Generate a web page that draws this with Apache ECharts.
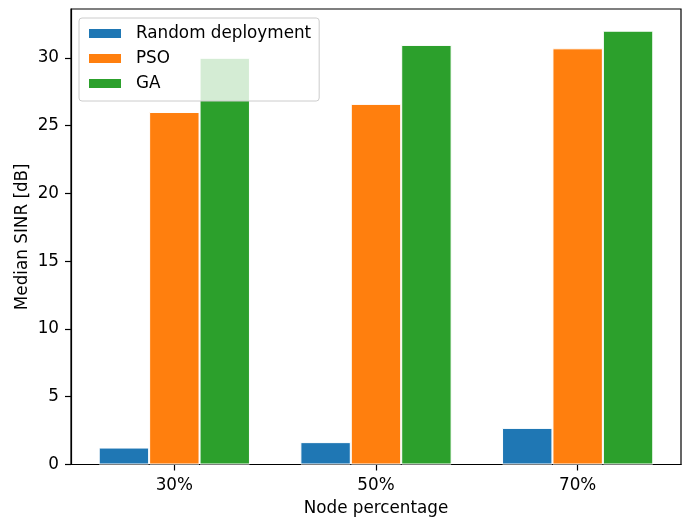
<!DOCTYPE html>
<html>
<head>
<meta charset="utf-8">
<script src="https://cdn.jsdelivr.net/npm/echarts@6/dist/echarts.min.js"></script>
<style>
  html, body { margin: 0; padding: 0; background: #fff; }
  #chart { width: 690px; height: 518px; }
</style>
</head>
<body>
<div id="chart"></div>
<script>
// Median SINR per deployment strategy, grouped by node percentage
const categories = ['30%', '50%', '70%'];
const seriesNames = ['Random deployment', 'PSO', 'GA'];
const randomValues = [1.25, 1.65, 2.7];
const psoValues = [26.0, 26.6, 30.7];
const gaValues = [30.0, 30.95, 32.0];
const yTicks = [0, 5, 10, 15, 20, 25, 30];

const colors = ['#1f77b4', '#ff7f0e', '#2ca02c'];
const FONT = 'DejaVu Sans';
const FS = 16.8;

const chart = echarts.init(document.getElementById('chart'), null, { renderer: 'canvas' });

function barSeries(name, values, color) {
  return {
    name: name,
    type: 'bar',
    barWidth: '25%',
    barGap: '0%',
    data: values.map((v, i) => [i, v]),
    itemStyle: { color: color, borderColor: '#ffffff', borderWidth: 1 },
    emphasis: { disabled: true }
  };
}

chart.setOption({
  animation: false,
  textStyle: { fontFamily: FONT },
  grid: {
    left: 71, right: 9, top: 9, bottom: 53.5,
    outerBoundsMode: 'none',
    containLabel: false,
    show: true, borderColor: '#000', borderWidth: 1.2, backgroundColor: 'transparent'
  },
  legend: {
    orient: 'vertical',
    left: 79, top: 18,
    padding: [7, 8, 9, 8],
    itemWidth: 34, itemHeight: 11, itemGap: 8,
    icon: 'rect',
    backgroundColor: 'rgba(255,255,255,0.8)',
    borderColor: '#cccccc', borderWidth: 1, borderRadius: 3,
    textStyle: { fontFamily: FONT, fontSize: FS, color: '#000', padding: [0, 0, 0, 9] },
    data: seriesNames
  },
  xAxis: {
    type: 'value',
    min: -0.5125, max: 2.5125,
    splitLine: { show: false },
    axisLine: { show: true, onZero: false, lineStyle: { color: '#000', width: 1.2 } },
    axisTick: { show: true, length: 6, customValues: [0, 1, 2], lineStyle: { color: '#000', width: 1.2 } },
    axisLabel: {
      customValues: [0, 1, 2],
      formatter: v => categories[Math.round(v)],
      margin: 13, fontFamily: FONT, fontSize: FS, color: '#000'
    },
    name: 'Node percentage',
    nameLocation: 'middle', nameGap: 36,
    nameTextStyle: { fontFamily: FONT, fontSize: FS, color: '#000' }
  },
  yAxis: {
    type: 'value',
    min: 0, max: 33.6,
    splitLine: { show: false },
    axisLine: { show: true, onZero: false, lineStyle: { color: '#000', width: 1.2 } },
    axisTick: { show: true, length: 6, customValues: yTicks, lineStyle: { color: '#000', width: 1.2 } },
    axisLabel: {
      customValues: yTicks,
      margin: 12, fontFamily: FONT, fontSize: FS, color: '#000'
    },
    name: 'Median SINR [dB]',
    nameLocation: 'middle', nameGap: 40, nameRotate: 90,
    nameMoveOverlap: false,
    nameTextStyle: { fontFamily: FONT, fontSize: FS, color: '#000' }
  },
  series: [
    barSeries(seriesNames[0], randomValues, colors[0]),
    barSeries(seriesNames[1], psoValues, colors[1]),
    barSeries(seriesNames[2], gaValues, colors[2])
  ]
});
</script>
</body>
</html>
